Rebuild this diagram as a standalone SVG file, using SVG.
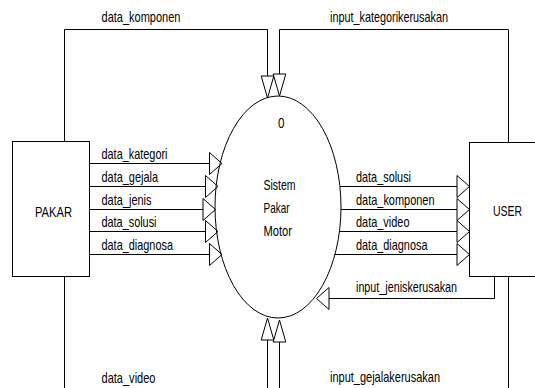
<svg xmlns="http://www.w3.org/2000/svg" xmlns:xlink="http://www.w3.org/1999/xlink" width="535" height="388" viewBox="0 0 535 388">
<style>
  .t { font-family: "Liberation Sans", Arial, sans-serif; font-size: 14.5px; fill: #000; }
  .ln { fill: none; stroke: #000; stroke-width: 1; }
  .box { fill: #fff; stroke: #000; stroke-width: 1; }
  .ah { fill: #fff; stroke: #000; stroke-width: 1; stroke-linejoin: miter; }
</style>
<defs>
  <path id="ar" class="ah" d="M0,-11 L12.5,0 L0,11 Z"/>
  <path id="al" class="ah" d="M0,-11 L-12.5,0 L0,11 Z"/>
  <path id="ad" class="ah" d="M-6.3,0 L0,22 L6.3,0 Z"/>
  <path id="au" class="ah" d="M-6.3,0 L0,-22 L6.3,0 Z"/>
</defs>
<rect width="535" height="388" fill="#fff"/>

<g id="connectors">
  <!-- data_komponen (PAKAR -> process, top) -->
  <path class="ln" d="M64.5,141 V29.5 H267.5 V76"/>
  <use xlink:href="#ad" x="267.5" y="76"/>
  <text class="t" x="101.5" y="21.5" textLength="79" lengthAdjust="spacingAndGlyphs">data_komponen</text>
  <!-- input_kategorikerusakan (USER -> process, top) -->
  <path class="ln" d="M508.5,142 V29.5 H279.5 V74"/>
  <use xlink:href="#ad" x="279.5" y="74"/>
  <text class="t" x="330" y="21.5" textLength="118" lengthAdjust="spacingAndGlyphs">input_kategorikerusakan</text>

  <!-- PAKAR -> process -->
  <path class="ln" d="M89,163.5 H209.5"/>
  <use xlink:href="#ar" x="209.5" y="163.5"/>
  <text class="t" x="101.5" y="159" textLength="66" lengthAdjust="spacingAndGlyphs">data_kategori</text>
  <path class="ln" d="M89,186.5 H205.5"/>
  <use xlink:href="#ar" x="205.5" y="186.5"/>
  <text class="t" x="101.5" y="181.5" textLength="56.5" lengthAdjust="spacingAndGlyphs">data_gejala</text>
  <path class="ln" d="M89,209.5 H203"/>
  <use xlink:href="#ar" x="203" y="209.5"/>
  <text class="t" x="101.5" y="204.5" textLength="50" lengthAdjust="spacingAndGlyphs">data_jenis</text>
  <path class="ln" d="M89,231.5 H205.5"/>
  <use xlink:href="#ar" x="205.5" y="231.5"/>
  <text class="t" x="101.5" y="226.5" textLength="55" lengthAdjust="spacingAndGlyphs">data_solusi</text>
  <path class="ln" d="M89,254.5 H209.5"/>
  <use xlink:href="#ar" x="209.5" y="254.5"/>
  <text class="t" x="101.5" y="249.5" textLength="71.5" lengthAdjust="spacingAndGlyphs">data_diagnosa</text>

  <!-- process -> USER -->
  <path class="ln" d="M340,186.5 H457"/>
  <use xlink:href="#ar" x="457" y="186.5"/>
  <text class="t" x="356" y="181.5" textLength="55" lengthAdjust="spacingAndGlyphs">data_solusi</text>
  <path class="ln" d="M341,209.5 H457"/>
  <use xlink:href="#ar" x="457" y="209.5"/>
  <text class="t" x="356" y="204.5" textLength="78.5" lengthAdjust="spacingAndGlyphs">data_komponen</text>
  <path class="ln" d="M339,231.5 H457"/>
  <use xlink:href="#ar" x="457" y="231.5"/>
  <text class="t" x="356" y="226.5" textLength="53.5" lengthAdjust="spacingAndGlyphs">data_video</text>
  <path class="ln" d="M335,254.5 H457"/>
  <use xlink:href="#ar" x="457" y="254.5"/>
  <text class="t" x="356" y="249.5" textLength="71.5" lengthAdjust="spacingAndGlyphs">data_diagnosa</text>

  <!-- input_jeniskerusakan (USER -> process) -->
  <path class="ln" d="M494.5,277 V298.5 H329"/>
  <use xlink:href="#al" x="329" y="298.5"/>
  <text class="t" x="356" y="291.5" textLength="101" lengthAdjust="spacingAndGlyphs">input_jeniskerusakan</text>

  <!-- data_video (PAKAR -> process, bottom) -->
  <path class="ln" d="M64.5,277 V388"/>
  <path class="ln" d="M267.5,388 V340"/>
  <use xlink:href="#au" x="267.5" y="340"/>
  <text class="t" x="101.5" y="383" textLength="54" lengthAdjust="spacingAndGlyphs">data_video</text>
  <!-- input_gejalakerusakan (USER -> process, bottom) -->
  <path class="ln" d="M508.5,277 V388"/>
  <path class="ln" d="M279.5,388 V342"/>
  <use xlink:href="#au" x="279.5" y="342"/>
  <text class="t" x="330" y="382" textLength="110" lengthAdjust="spacingAndGlyphs">input_gejalakerusakan</text>
</g>

<g id="process">
  <ellipse class="box" cx="278" cy="207" rx="63" ry="111" fill="none" style="fill:none"/>
  <text class="t" x="278" y="128" textLength="6.5" lengthAdjust="spacingAndGlyphs">0</text>
  <text class="t" x="263.5" y="190" textLength="32" lengthAdjust="spacingAndGlyphs">Sistem</text>
  <text class="t" x="263.5" y="213" textLength="26" lengthAdjust="spacingAndGlyphs">Pakar</text>
  <text class="t" x="263.5" y="236" textLength="28.5" lengthAdjust="spacingAndGlyphs">Motor</text>
</g>

<g id="pakar">
  <rect class="box" x="12.5" y="141.5" width="77" height="135"/>
  <text class="t" x="35" y="216.5" textLength="37" lengthAdjust="spacingAndGlyphs">PAKAR</text>
</g>

<g id="user">
  <rect class="box" x="469.5" y="142.5" width="80" height="134"/>
  <text class="t" x="493" y="216" textLength="29" lengthAdjust="spacingAndGlyphs">USER</text>
</g>
</svg>
